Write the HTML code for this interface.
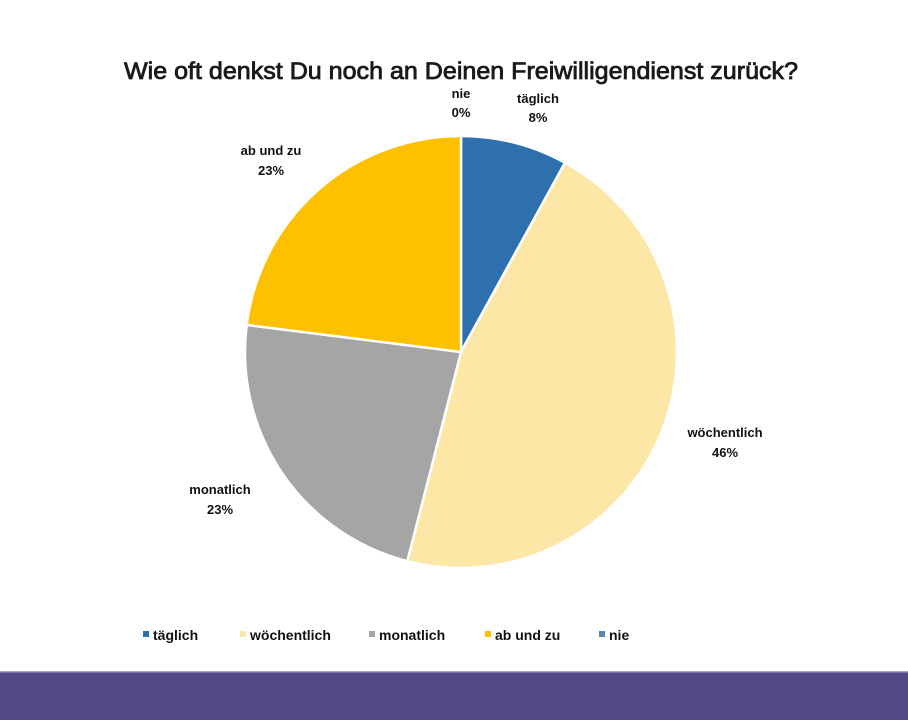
<!DOCTYPE html>
<html><head><meta charset="utf-8"><style>
body{margin:0;background:#fff;}
svg{display:block;font-family:"Liberation Sans",sans-serif;font-weight:bold;}
</style></head><body>
<svg width="908" height="720" viewBox="0 0 908 720">
<rect width="908" height="720" fill="#fff"/>
<text x="461" y="79" font-size="24" font-weight="normal" text-anchor="middle" textLength="674" lengthAdjust="spacingAndGlyphs" fill="#1a1a1a" stroke="#1a1a1a" stroke-width="0.8">Wie oft denkst Du noch an Deinen Freiwilligendienst zurück?</text>
<g stroke="#fff" stroke-width="2.5">
<path d="M461,352 L461,136 A216,216 0 0 1 565,162.7 Z" fill="#2e6fae"/>
<path d="M461,352 L565,162.7 A216,216 0 0 1 407.3,561.2 Z" fill="#fde7a6"/>
<path d="M461,352 L407.3,561.2 A216,216 0 0 1 246.7,324.9 Z" fill="#a5a5a5"/>
<path d="M461,352 L246.7,324.9 A216,216 0 0 1 461,136 Z" fill="#ffc000"/>
</g>
<g font-size="13" fill="#111" text-anchor="middle">
<text x="461" y="98">nie</text><text x="461" y="117">0%</text>
<text x="538" y="103">täglich</text><text x="538" y="122">8%</text>
<text x="271" y="155">ab und zu</text><text x="271" y="175">23%</text>
<text x="725" y="437">wöchentlich</text><text x="725" y="457">46%</text>
<text x="220" y="494">monatlich</text><text x="220" y="514">23%</text>
</g>
<g font-size="14" fill="#111">
<rect x="143" y="631" width="6" height="6" fill="#2e6fae"/><text x="153" y="640">täglich</text>
<rect x="240" y="631" width="6" height="6" fill="#fde7a6"/><text x="250" y="640">wöchentlich</text>
<rect x="369" y="631" width="6" height="6" fill="#a5a5a5"/><text x="379" y="640">monatlich</text>
<rect x="485" y="631" width="6" height="6" fill="#ffc000"/><text x="495" y="640">ab und zu</text>
<rect x="599" y="631" width="6" height="6" fill="#5b87ad"/><text x="609" y="640">nie</text>
</g>
<rect x="0" y="672" width="908" height="48" fill="#524a87"/>
<rect x="0" y="671" width="908" height="1.5" fill="#a8a3c6"/>
</svg>
</body></html>
